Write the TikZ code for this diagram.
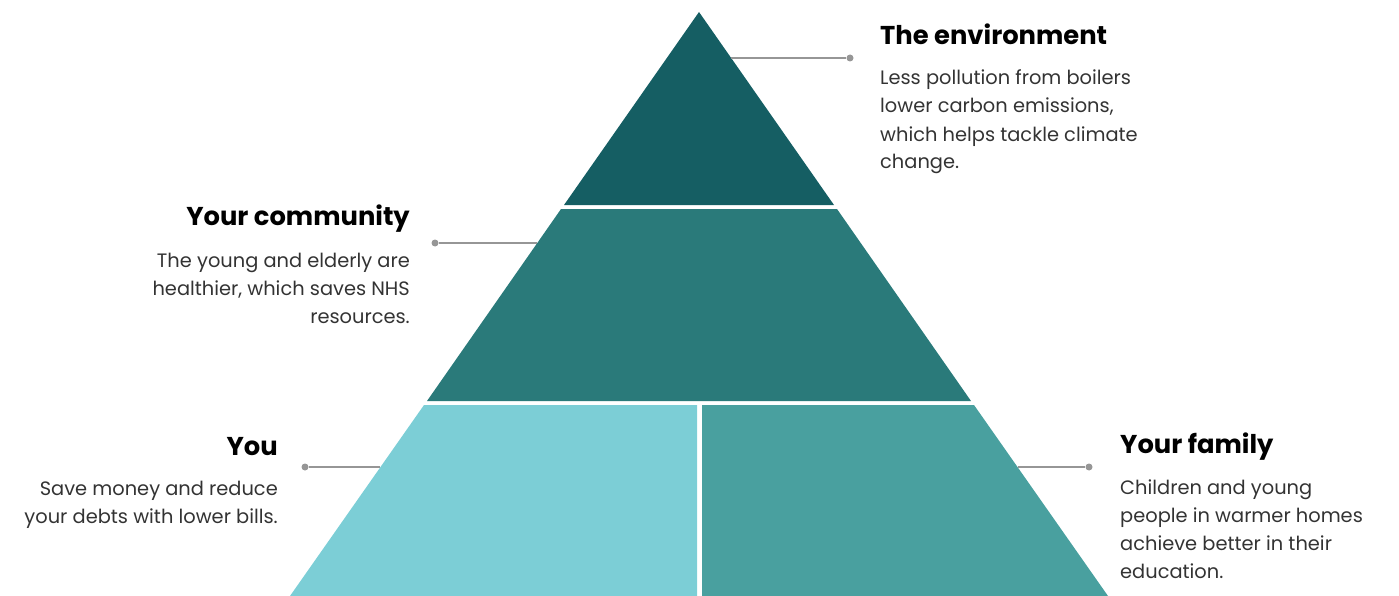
\documentclass[tikz,border=0pt]{standalone}
\usepackage{fontspec}
\setmainfont{Poppins}
\usepackage{tikz}

\definecolor{tiertop}{RGB}{21,94,99}
\definecolor{tiermid}{RGB}{42,122,122}
\definecolor{tieryou}{RGB}{124,206,214}
\definecolor{tierfam}{RGB}{73,160,159}
\definecolor{pingrey}{RGB}{150,150,150}
\definecolor{textgrey}{RGB}{51,51,51}

\tikzset{
  heading/.style={font=\fontsize{25.8}{28}\selectfont\bfseries, inner sep=0},
  blurb/.style={font=\fontsize{19.4}{28}\selectfont, text=textgrey, inner sep=0},
  pin/.style={draw=pingrey, line width=1.8pt},
  pindot/.style={circle, fill=pingrey, inner sep=0, minimum size=7pt},
}

\begin{document}
\begin{tikzpicture}[x=1pt, y=-1pt]
  \useasboundingbox (0,0) rectangle (1399,596);

  % pyramid tiers, white gaps left between them
  \fill[tiertop] (699,12) -- (834,205) -- (564,205) -- cycle;
  \fill[tiermid] (561,209) -- (837,209) -- (971,401) -- (427,401) -- cycle;
  \fill[tieryou] (424,405) -- (697,405) -- (697,596) -- (290,596) -- cycle;
  \fill[tierfam] (702,405) -- (974,405) -- (1108,596) -- (702,596) -- cycle;

  % where the pins touch the pyramid
  \coordinate (envedge) at (731,58);
  \coordinate (comedge) at (537,243);
  \coordinate (youedge) at (380,467);
  \coordinate (famedge) at (1018,467);

  \node[pindot] (envdot) at (850,58) {};
  \node[pindot] (comdot) at (435,243) {};
  \node[pindot] (youdot) at (305,467) {};
  \node[pindot] (famdot) at (1089,467) {};

  \draw[pin] (envedge) -- (envdot);
  \draw[pin] (comedge) -- (comdot);
  \draw[pin] (youedge) -- (youdot);
  \draw[pin] (famedge) -- (famdot);

  % labels (blurbs sit on the baseline of their last line)
  \node[heading, anchor=base west] (envhead) at (880,45) {The environment};
  \node[blurb, anchor=base west, align=left] (envtext) at (880,169)
    {Less pollution from boilers\\lower carbon emissions,\\which helps tackle climate\\change.};

  \node[heading, anchor=base east] (comhead) at (410,225) {Your community};
  \node[blurb, anchor=base east, align=right] (comtext) at (410,323)
    {The young and elderly are\\healthier, which saves NHS\\resources.};

  \node[heading, anchor=base east] (youhead) at (278,455) {You};
  \node[blurb, anchor=base east, align=right] (youtext) at (278,523)
    {Save money and reduce\\your debts with lower bills.};

  \node[heading, anchor=base west] (famhead) at (1120,453) {Your family};
  \node[blurb, anchor=base west, align=left] (famtext) at (1120,578)
    {Children and young\\people in warmer homes\\achieve better in their\\education.};
\end{tikzpicture}
\end{document}
